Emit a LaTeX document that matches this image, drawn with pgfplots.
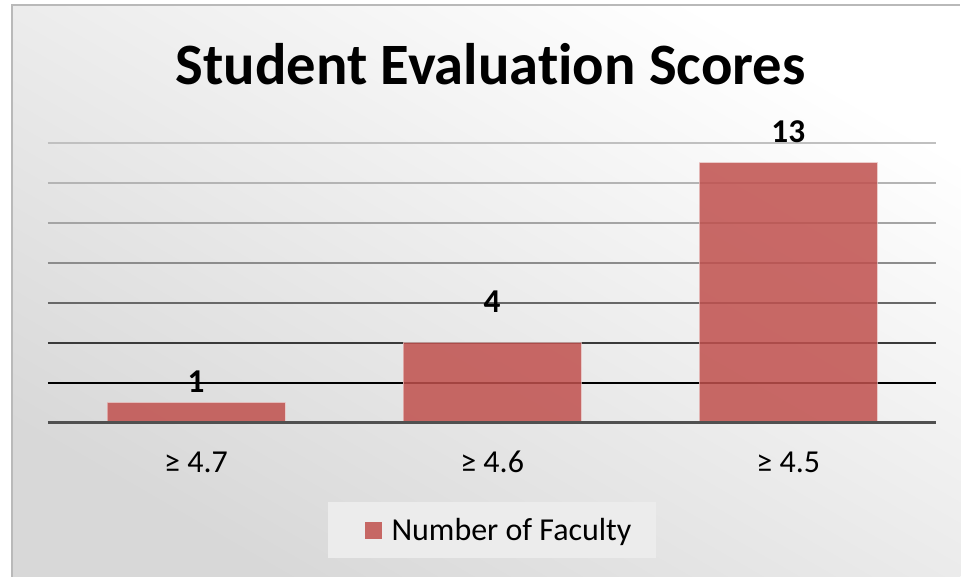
\documentclass[border=0pt]{standalone}
\usepackage{pgfplots}
\pgfplotsset{compat=1.18}
\usepackage{fontspec}
\setmainfont[Ligatures=NoCommon]{Carlito}
\definecolor{barred}{RGB}{192,80,77}
\definecolor{bgdark}{RGB}{216,216,216}
\definecolor{legfill}{RGB}{236,236,236}
\definecolor{g1}{RGB}{0,0,0}
\definecolor{g2}{RGB}{58,58,58}
\definecolor{g3}{RGB}{104,104,104}
\definecolor{g4}{RGB}{140,140,140}
\definecolor{g5}{RGB}{164,164,164}
\definecolor{g6}{RGB}{180,180,180}
\definecolor{g7}{RGB}{192,192,192}
\definecolor{basec}{RGB}{80,80,80}
\pgfplotstableread{
x y off lab
0 1 8 1
1 4 23 4
2 13 15 13
}\scores
\begin{document}
\begin{tikzpicture}[x=0.75pt,y=0.75pt]
\fill[white] (0,0) rectangle (961,577);
\shade[top color=white, bottom color=bgdark, shading angle=-30] (12,0) rectangle (961,572);
\draw[gray!55, line width=1pt] (12,0) -- (12,572) -- (961,572);
\node[font=\fontsize{44}{52}\selectfont\bfseries, anchor=base] at (491,492) {Student Evaluation Scores};
\begin{axis}[
  at={(36pt,115.5pt)}, anchor=south west,
  scale only axis, width=666.75pt, height=210pt,
  xmin=-0.5, xmax=2.5, ymin=0, ymax=14,
  axis line style={draw=none}, tick style={draw=none},
  ytick=\empty, xtick={0,1,2},
  xticklabels={≥ 4.7, ≥ 4.6, ≥ 4.5},
  xticklabel style={font=\fontsize{24}{28}\selectfont, anchor=base, yshift=-37.5pt},
  clip=false,
  legend style={at={(0.5,-0.384)}, anchor=center, fill=legfill, draw=none,
    font=\fontsize{24}{28}\selectfont, inner xsep=16.5pt, inner ysep=10pt},
  legend image code/.code={\path[draw=none, fill=none] (-11pt,0) -- (18pt,0); \fill[barred, fill opacity=0.85, draw=none] (0pt,-6.4pt) rectangle (12.75pt,6.4pt);},
]
\addplot[forget plot, g7, line width=1.3pt] coordinates {(-0.5,14) (2.5,14)};
\addplot[forget plot, g6, line width=1.3pt] coordinates {(-0.5,12) (2.5,12)};
\addplot[forget plot, g5, line width=1.3pt] coordinates {(-0.5,10) (2.5,10)};
\addplot[forget plot, g4, line width=1.3pt] coordinates {(-0.5,8) (2.5,8)};
\addplot[forget plot, g3, line width=1.3pt] coordinates {(-0.5,6) (2.5,6)};
\addplot[forget plot, g2, line width=1.3pt] coordinates {(-0.5,4) (2.5,4)};
\addplot[forget plot, g1, line width=1.3pt] coordinates {(-0.5,2) (2.5,2)};
\addplot[ybar, bar width=133.5pt, fill=barred, fill opacity=0.85,
  draw=barred!35!white, draw opacity=0.7, line width=0.6pt,
  point meta=explicit symbolic,
  visualization depends on={\thisrow{off} \as \labeloff},
  nodes near coords={\textbf{\pgfplotspointmeta}},
  every node near coord/.append style={anchor=base, inner sep=0pt, yshift=\labeloff pt, text opacity=1, black, font=\fontsize{25}{29}\selectfont}
] table[x=x, y=y, meta=lab] {\scores};
\addlegendentry{Number of Faculty}
\addplot[forget plot, basec, line width=2.5pt] coordinates {(-0.5,0) (2.5,0)};
\end{axis}
\end{tikzpicture}
\end{document}
